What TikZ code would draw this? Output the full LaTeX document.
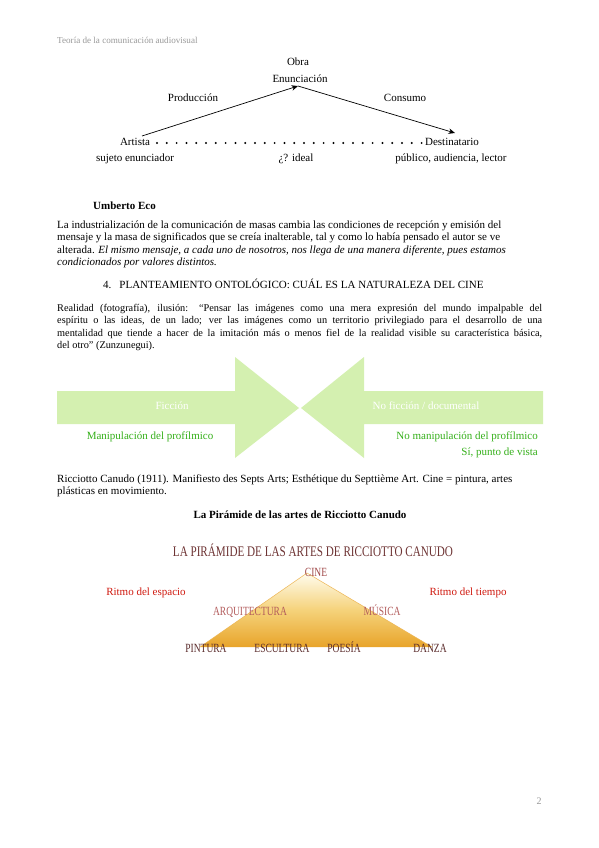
\documentclass[tikz,border=0pt]{standalone}
\usepackage{fontspec}
\setmainfont{Liberation Serif}
\newfontfamily\condfont[FakeStretch=0.76]{Liberation Serif}
\usetikzlibrary{arrows.meta}
\definecolor{arrowgreen}{HTML}{D4F0B0}
\definecolor{txtgreen}{HTML}{35B01A}
\definecolor{hdrgray}{HTML}{999999}
\definecolor{ptitle}{HTML}{6E3434}
\definecolor{pcine}{HTML}{A04848}
\definecolor{pmid}{HTML}{B35C5C}
\definecolor{pbase}{HTML}{5A2B2B}
\definecolor{ritmo}{HTML}{D01A10}
\definecolor{goldtop}{HTML}{FFFCEE}
\definecolor{goldmid}{HTML}{F5D27A}
\definecolor{goldbot}{HTML}{E8A42A}
\tikzset{
  body/.style={anchor=base west, inner sep=0pt, font=\fontsize{11}{13}\selectfont},
  rbody/.style={anchor=base west, inner sep=0pt, font=\fontsize{10.3}{12}\selectfont},
  dlabel/.style={anchor=base, inner sep=1pt, font=\fontsize{11}{13}\selectfont},
  arr/.style={-{Stealth[length=6.5pt,width=5.5pt]}, line width=0.7pt},
  gtext/.style={inner sep=0pt, anchor=base, font=\fontsize{11}{13}\selectfont, text=txtgreen},
  wtext/.style={inner sep=0pt, anchor=base, font=\fontsize{11}{13}\selectfont, text=white},
  plabel/.style={inner sep=0pt, anchor=base, font=\condfont\fontsize{12.5}{14}\selectfont},
  rtext/.style={inner sep=0pt, anchor=base, font=\fontsize{11}{13}\selectfont, text=ritmo}
}
\begin{document}
\begin{tikzpicture}[x=1pt,y=-1pt]
\useasboundingbox (0,0) rectangle (599,848);
\fill[white] (0,0) rectangle (599,848);

% header
\node[anchor=base west, inner sep=0pt, text=hdrgray, font=\fontsize{9.1}{11}\selectfont] (hdr) at (57,44) {Teoría de la comunicación audiovisual};

% communication diagram
\node[dlabel] (obra) at (298,66) {Obra};
\node[dlabel] (enun) at (300,83) {Enunciación};
\node[dlabel] (prod) at (193,102) {Producción};
\node[dlabel] (cons) at (405,102) {Consumo};
\node[dlabel] (artista) at (135,146) {Artista};
\node[dlabel] (dest) at (452,146) {Destinatario};
\node[dlabel] (sujeto) at (135,161) {sujeto enunciador};
\node[dlabel] (ideal) at (296,161) {¿? ideal};
\node[dlabel] (publico) at (451,161) {público, audiencia, lector};
\coordinate (pa) at (142,136);
\coordinate (ca) at (455,133);
\coordinate (ea) at (298,86);
\draw[arr] (pa) -- (ea);
\draw[arr] (ea) -- (ca);
\foreach \i in {0,...,27} \fill (157+\i*9.8,143) circle (1.1pt);

% Umberto Eco
\node[body, font=\bfseries\fontsize{11}{13}\selectfont] (eco) at (93,209) {Umberto Eco};
\node[body] (e1) at (57,228) {La industrialización de la comunicación de masas cambia las condiciones de recepción y emisión del};
\node[body] (e2) at (57,240.5) {mensaje y la masa de significados que se creía inalterable, tal y como lo había pensado el autor se ve};
\node[body] (e3) at (57,253) {alterada. \textit{El mismo mensaje, a cada uno de nosotros, nos llega de una manera diferente, pues estamos}};
\node[body] (e4) at (57,265.5) {\textit{condicionados por valores distintos.}};

% section heading
\node[body] (sec) at (103,288) {4.\hspace{8pt}PLANTEAMIENTO ONTOLÓGICO: CUÁL ES LA NATURALEZA DEL CINE};

% Realidad paragraph
\node[rbody] (r1) at (57,311) {\makebox[485pt][s]{Realidad (fotografía), ilusión: “Pensar las imágenes como una mera expresión del mundo impalpable del}};
\node[rbody] (r2) at (57,323.5) {\makebox[485pt][s]{espíritu o las ideas, de un lado; ver las imágenes como un territorio privilegiado para el desarrollo de una}};
\node[rbody] (r3) at (57,336) {\makebox[485pt][s]{mentalidad que tiende a hacer de la imitación más o menos fiel de la realidad visible su característica básica,}};
\node[rbody] (r4) at (57,348.5) {del otro” (Zunzunegui).};

% green arrows
\fill[arrowgreen] (57,391) -- (235,391) -- (235,357) -- (299,408) -- (235,458) -- (235,424) -- (57,424) -- cycle;
\fill[arrowgreen] (543,391) -- (364,391) -- (364,357) -- (301,408) -- (364,458) -- (364,424) -- (543,424) -- cycle;
\node[wtext] (fic) at (172,409) {Ficción};
\node[wtext] (nofic) at (426,409) {No ficción / documental};
\node[gtext] (manip) at (150,439) {Manipulación del profílmico};
\node[gtext, anchor=base east] (nomanip) at (538,439) {No manipulación del profílmico};
\node[gtext, anchor=base east] (punto) at (538,455) {Sí, punto de vista};

% Ricciotto
\node[body] (ric1) at (57,482) {Ricciotto Canudo (1911). Manifiesto des Septs Arts; Esthétique du Septtième Art. Cine = pintura, artes};
\node[body] (ric2) at (57,494.5) {plásticas en movimiento.};
\node[body, anchor=base, font=\bfseries\fontsize{11}{13}\selectfont] (ptit) at (300,518) {La Pirámide de las artes de Ricciotto Canudo};

% pyramid
\shade[top color=goldtop, bottom color=goldbot, middle color=goldmid] (307,573) -- (200,647) -- (432,647) -- cycle;
\draw[goldbot!80, line width=0.5pt] (200,647) -- (307,573) -- (432,647);
\node[plabel, text=ptitle, font=\condfont\fontsize{13.6}{15}\selectfont] (pt) at (313,556) {\resizebox{280pt}{!}{LA PIRÁMIDE DE LAS ARTES DE RICCIOTTO CANUDO}};
\node[plabel, text=pcine] (cine) at (316,576) {CINE};
\node[rtext] (resp) at (146,595) {Ritmo del espacio};
\node[rtext] (rtie) at (468,595) {Ritmo del tiempo};
\node[plabel, text=pmid] (arq) at (250,615) {ARQUITECTURA};
\node[plabel, text=pmid] (mus) at (382,615) {MÚSICA};
\node[plabel, text=pbase] (pin) at (206,652) {PINTURA};
\node[plabel, text=pbase] (esc) at (282,652) {ESCULTURA};
\node[plabel, text=pbase] (poe) at (344,652) {POESÍA};
\node[plabel, text=pbase] (dan) at (430,652) {DANZA};

% page number
\node[anchor=base, inner sep=0pt, text=hdrgray, font=\fontsize{10}{12}\selectfont] (pg) at (539,804) {2};
\end{tikzpicture}
\end{document}
